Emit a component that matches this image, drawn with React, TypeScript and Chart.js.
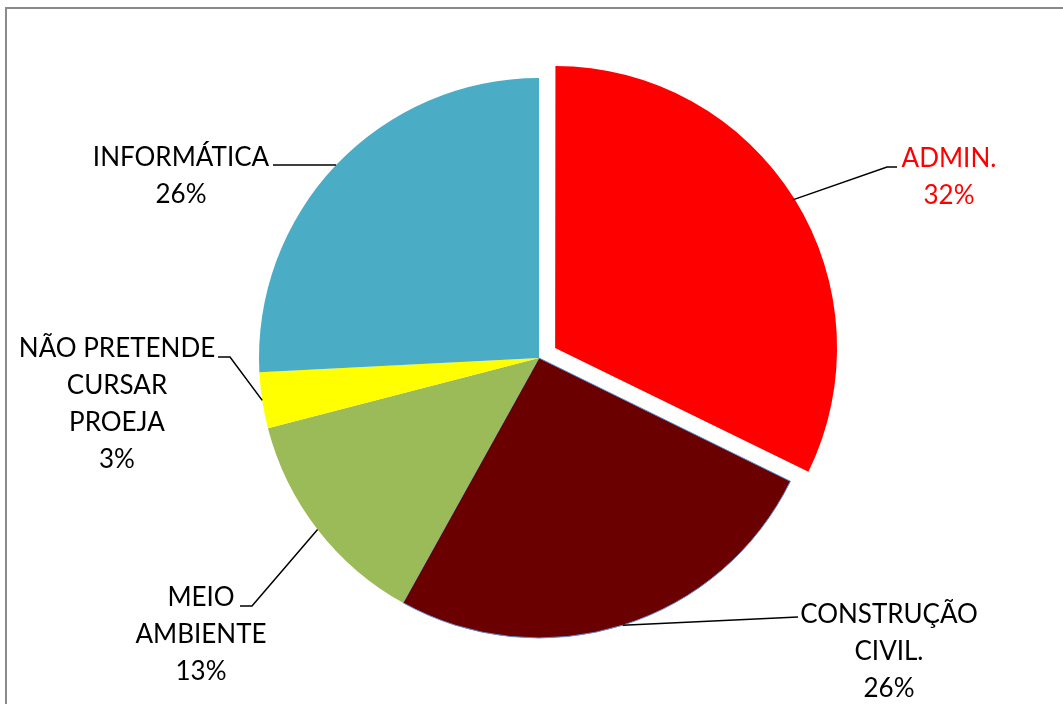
import React, { useEffect, useRef } from "react";
import { Chart, registerables } from "chart.js";

Chart.register(...registerables);

const categories = [
  "ADMIN.",
  "CONSTRUÇÃO\nCIVIL.",
  "MEIO\nAMBIENTE",
  "NÃO PRETENDE\nCURSAR\nPROEJA",
  "INFORMÁTICA",
];
const values = [10, 8, 4, 1, 8];
const colors = ["#FF0000", "#6A0000", "#9BBB59", "#FFFF00", "#4BACC6"];
const labelColors = ["#FF0000", "#000000", "#000000", "#000000", "#000000"];
// Chart.js translates an arc by offset / 4
const offsets = [76, 0, 0, 0, 0];

// layout of the data labels (absolute canvas pixels): text anchor (centre x, first baseline y), elbow, end
const labelLayout = [
  { tx: 949, ty: 167, ex: 887, ey: 167, lx: 897, ly: 167 },
  { tx: 889, ty: 623, ex: 798, ey: 617, lx: 798, ly: 617 },
  { tx: 201, ty: 606, ex: 252, ey: 606, lx: 240, ly: 606 },
  { tx: 117, ty: 357, ex: 230, ey: 357, lx: 218, ly: 357 },
  { tx: 181, ty: 166, ex: 273, ey: 165, lx: 273, ly: 165 },
];

const FONT = "26px Lato";
const LINE_H = 37;

const framePlugin = {
  id: "frame",
  beforeDraw(chart: any) {
    const ctx = chart.ctx;
    ctx.save();
    ctx.fillStyle = "#ffffff";
    ctx.fillRect(0, 0, chart.width, chart.height);
    ctx.strokeStyle = "#8a8a8a";
    ctx.lineWidth = 2;
    ctx.strokeRect(6, 8, chart.width + 20, chart.height + 20);
    ctx.restore();
  },
};

const labelPlugin = {
  id: "pieLabels",
  afterDatasetsDraw(chart: any) {
    const ctx = chart.ctx;
    const meta = chart.getDatasetMeta(0);
    const total = values.reduce((a, b) => a + b, 0);
    ctx.save();
    meta.data.forEach((el: any, i: number) => {
      const { x, y, startAngle, endAngle, outerRadius } = el.getProps(
        ["x", "y", "startAngle", "endAngle", "outerRadius"],
        true
      );
      const mid = (startAngle + endAngle) / 2;
      const off = offsets[i] / 4;
      const sx = x + Math.cos(mid) * (off + outerRadius);
      const sy = y + Math.sin(mid) * (off + outerRadius);
      const L = labelLayout[i];
      ctx.strokeStyle = "#000000";
      ctx.lineWidth = 1.5;
      ctx.beginPath();
      ctx.moveTo(sx, sy);
      ctx.lineTo(L.ex, L.ey);
      ctx.lineTo(L.lx, L.ly);
      ctx.stroke();

      const pct = Math.round((values[i] / total) * 100) + "%";
      const lines = categories[i].split("\n").concat([pct]);
      ctx.fillStyle = labelColors[i];
      ctx.font = FONT;
      ctx.textAlign = "center";
      ctx.textBaseline = "alphabetic";
      lines.forEach((t, k) => {
        ctx.fillText(t, L.tx, L.ty + k * LINE_H);
      });
    });
    ctx.restore();
  },
};

export default function App() {
  const ref = useRef<HTMLCanvasElement | null>(null);
  useEffect(() => {
    if (!ref.current) return;
    const chart = new Chart(ref.current, {
      type: "pie",
      data: {
        labels: categories.map((c) => c.replace(/\n/g, " ")),
        datasets: [
          {
            data: values,
            backgroundColor: colors,
            borderColor: ["#ffffff", "#5B8FD0", "#ffffff", "#ffffff", "#ffffff"],
            borderWidth: [0, 1, 0, 0, 0],
            offset: offsets,
            radius: 280,
          } as any,
        ],
      },
      options: {
        responsive: false,
        animation: false,
        layout: { padding: { left: 15, right: 0, top: 12, bottom: 0 } },
        plugins: {
          legend: { display: false },
          tooltip: { enabled: false },
        },
      },
      plugins: [framePlugin, labelPlugin],
    });
    return () => chart.destroy();
  }, []);
  return (
    <div style={{ position: "absolute", left: 0, top: 0, width: 1063, height: 704 }}>
      <canvas ref={ref} width={1063} height={704} />
    </div>
  );
}
